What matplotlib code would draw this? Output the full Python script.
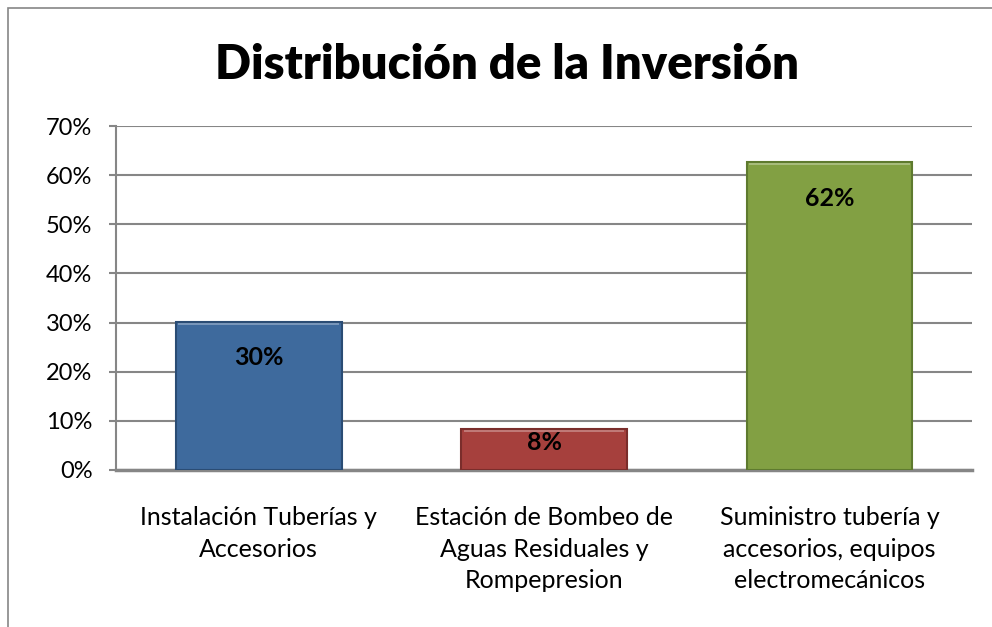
import matplotlib
matplotlib.use('Agg')
import matplotlib.pyplot as plt
from matplotlib.patches import Rectangle
from matplotlib.ticker import PercentFormatter

plt.rcParams['font.family'] = ['Lato', 'DejaVu Sans']

categories = ['Instalación Tuberías y\nAccesorios',
              'Estación de Bombeo de\nAguas Residuales y\nRompepresion',
              'Suministro tubería y\naccesorios, equipos\nelectromecánicos']
values = [0.302, 0.083, 0.627]
value_labels = ['30%', '8%', '62%']
colors = ['#3E6A9D', '#A6403D', '#82A043']
edges = ['#2A4C74', '#7A2D2B', '#5E7A2E']
yticks = [0, 0.1, 0.2, 0.3, 0.4, 0.5, 0.6, 0.7]

fig = plt.figure(figsize=(9.92, 6.27), dpi=100)
ax = fig.add_axes([0.117, 0.2504, 0.863, 0.5486])

# outer chart border
fig.patches.append(Rectangle((8 / 992, -0.05), 1.2, 1.05 - 8 / 627,
                             transform=fig.transFigure, fill=False,
                             edgecolor='#868686', linewidth=1.2))

x = range(len(categories))
bars = ax.bar(x, values, width=0.58, color=colors, edgecolor=edges, linewidth=1.5, zorder=3)

# light strip at the top of each bar (bevel look)
for b in bars:
    ax.bar(b.get_x() + b.get_width() / 2, 0.004, bottom=b.get_height() - 0.006,
           width=b.get_width() * 0.97, color='white', alpha=0.3, zorder=4, linewidth=0)

offsets = [-36, -13, -37]
for b, lab, off in zip(bars, value_labels, offsets):
    ax.annotate(lab, (b.get_x() + b.get_width() / 2, b.get_height()),
                xytext=(0, off * 0.72), textcoords='offset points',
                ha='center', va='center', fontsize=18, fontweight='bold', zorder=5)

ax.set_ylim(0, 0.7)
ax.set_xlim(-0.5, 2.5)
ax.set_yticks(yticks)
ax.yaxis.set_major_formatter(PercentFormatter(1.0, decimals=0))
ax.grid(axis='y', color='#868686', linewidth=1.5, zorder=0)
ax.set_xticks(list(x))
ax.set_xticklabels(categories, fontsize=18, linespacing=1.45)
ax.tick_params(axis='x', length=0, pad=26)
ax.tick_params(axis='y', labelsize=17, length=5, color='#868686', width=1.5, pad=12)

for s in ['top', 'right']:
    ax.spines[s].set_visible(False)
ax.spines['left'].set_color('#868686')
ax.spines['left'].set_linewidth(1.5)
ax.spines['bottom'].set_color('#868686')
ax.spines['bottom'].set_linewidth(2.5)

fig.text(0.511, 0.897, 'Distribución de la Inversión', ha='center', va='center',
         fontsize=34, fontweight='heavy')

fig.savefig('out.png', dpi=100)
